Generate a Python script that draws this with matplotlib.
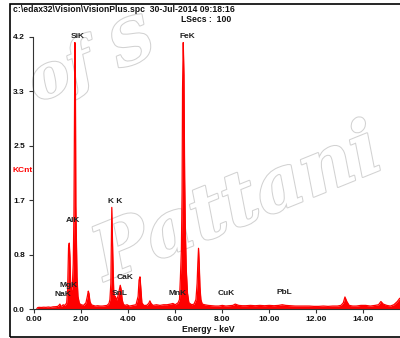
import matplotlib
matplotlib.use("Agg")
import matplotlib.pyplot as plt
import matplotlib.patheffects as pe
from matplotlib.patches import Rectangle

# EDS spectrum (keV, KCnt)
energy = [0.10, 0.14, 0.2, 0.3, 0.4, 0.5, 0.6, 0.7, 0.8, 0.9, 1.0, 1.05, 1.09,
          1.13, 1.18, 1.23, 1.28, 1.33, 1.38, 1.42, 1.46, 1.49, 1.52, 1.55,
          1.59, 1.62, 1.66, 1.69, 1.71, 1.73, 1.75, 1.77, 1.79, 1.82, 1.86,
          1.92, 2.0, 2.1, 2.2, 2.26, 2.30, 2.33, 2.37, 2.43, 2.5, 2.6, 2.7,
          2.8, 2.9, 3.0, 3.1, 3.18, 3.22, 3.26, 3.30, 3.34, 3.38, 3.42, 3.45,
          3.5, 3.56, 3.62, 3.66, 3.70, 3.74, 3.79, 3.86, 3.95, 4.05, 4.2,
          4.33, 4.42, 4.46, 4.50, 4.54, 4.58, 4.66, 4.78, 4.87, 4.92, 4.97,
          5.05, 5.2, 5.35, 5.5, 5.65, 5.8, 5.9, 6.0, 6.12, 6.18, 6.22, 6.26,
          6.29, 6.31, 6.34, 6.37, 6.40, 6.43, 6.47, 6.52, 6.58, 6.7, 6.8,
          6.88, 6.93, 6.96, 6.99, 7.02, 7.05, 7.09, 7.15, 7.25, 7.4, 7.55, 7.7,
          7.85, 8.0, 8.15, 8.3, 8.45, 8.55, 8.7, 8.85, 9.0, 9.2, 9.4, 9.6, 9.8,
          10.0, 10.2, 10.4, 10.55, 10.7, 10.9, 11.1, 11.3, 11.5, 11.7, 11.9,
          12.1, 12.3, 12.5, 12.7, 12.9, 13.05, 13.15, 13.22, 13.3, 13.4, 13.55,
          13.7, 13.9, 14.1, 14.3, 14.5, 14.65, 14.75, 14.85, 15.0, 15.15, 15.3,
          15.45, 15.55, 15.7, 15.85, 16.0]
kcnt = [0.0, 0.025, 0.03, 0.028, 0.032, 0.03, 0.035, 0.03, 0.038, 0.04, 0.045,
        0.06, 0.08, 0.05, 0.05, 0.07, 0.06, 0.07, 0.10, 0.3, 0.95, 1.02, 0.8,
        0.35, 0.3, 0.35, 0.7, 1.5, 2.97, 4.11, 3.69, 1.6, 1.17, 0.5, 0.2,
        0.09, 0.07, 0.06, 0.1, 0.2, 0.28, 0.24, 0.12, 0.07, 0.06, 0.05, 0.055,
        0.05, 0.05, 0.055, 0.06, 0.09, 0.15, 0.4, 1.57, 0.87, 0.3, 0.15, 0.2,
        0.14, 0.2, 0.3, 0.37, 0.3, 0.15, 0.08, 0.06, 0.07, 0.05, 0.06, 0.07,
        0.2, 0.45, 0.50, 0.3, 0.1, 0.06, 0.06, 0.09, 0.13, 0.09, 0.06, 0.07,
        0.06, 0.07, 0.07, 0.08, 0.09, 0.07, 0.1, 0.15, 0.5, 0.9, 1.8, 3.40,
        4.11, 3.61, 2.02, 1.2, 0.6, 0.25, 0.1, 0.07, 0.08, 0.15, 0.4, 0.7,
        0.94, 0.7, 0.35, 0.15, 0.08, 0.07, 0.06, 0.055, 0.05, 0.05, 0.06,
        0.05, 0.055, 0.06, 0.08, 0.06, 0.055, 0.055, 0.06, 0.055, 0.06, 0.055,
        0.06, 0.055, 0.06, 0.07, 0.06, 0.055, 0.05, 0.05, 0.05, 0.05, 0.045,
        0.045, 0.05, 0.045, 0.05, 0.05, 0.06, 0.1, 0.19, 0.12, 0.06, 0.05,
        0.05, 0.06, 0.06, 0.05, 0.06, 0.07, 0.12, 0.08, 0.06, 0.05, 0.07, 0.12,
        0.17, 0.16, 0.12, 0.08]

peak_names = ["NaK", "MgK", "AlK", "SiK", "K K", "SnL", "CaK", "MnK", "FeK",
              "CuK", "PbL"]
label_x = [1.23, 1.48, 1.66, 1.87, 3.45, 3.62, 3.87, 6.10, 6.53, 8.19, 10.64]
label_y = [0.23, 0.37, 1.37, 4.20, 1.66, 0.24, 0.49, 0.24, 4.20, 0.25, 0.26]

ytick_vals = [0.0, 0.84, 1.68, 2.52, 3.36, 4.2]
ytick_labels = ["0.0", "0.8", "1.7", "2.5", "3.3", "4.2"]
xtick_vals = [0, 2, 4, 6, 8, 10, 12, 14]

plt.rcParams["font.family"] = ["Liberation Sans", "DejaVu Sans"]
plt.rcParams["font.weight"] = "bold"
plt.rcParams["font.size"] = 6

W, H = 400, 338
fig = plt.figure(figsize=(W / 100, H / 100), dpi=100)
fig.patch.set_facecolor("white")

# watermark behind the plot
wm = [pe.Stroke(linewidth=1.5, foreground="#d2d2d2"), pe.Normal()]
fig.text(238 / W, 1 - 205 / H, "Pattani", fontsize=54, family="DejaVu Serif",
         style="italic", weight="bold", color="white", rotation=22,
         ha="center", va="center", zorder=-5, path_effects=wm)
fig.text(92 / W, 1 - 62 / H, "of S", fontsize=44, family="DejaVu Serif",
         style="italic", weight="bold", color="white", rotation=22,
         ha="center", va="center", zorder=-5, path_effects=wm)

ax = fig.add_axes([33.3 / W, 28.7 / H, 471 / W, 272.6 / H])
ax.patch.set_alpha(0)
ax.fill_between(energy, kcnt, 0, color="red", lw=0)
ax.plot(energy, kcnt, color="red", lw=0.9)

ax.set_xlim(-0.04, 20)
ax.set_ylim(0, 4.2)
for s in ["top", "right"]:
    ax.spines[s].set_visible(False)
for s in ["left", "bottom"]:
    ax.spines[s].set_color("#333333")
    ax.spines[s].set_linewidth(0.8)

ax.set_yticks(ytick_vals)
ax.set_yticklabels(ytick_labels)
ax.set_xticks(xtick_vals)
ax.set_xticklabels([f"{v:.2f}" for v in xtick_vals])
ax.tick_params(axis="both", direction="out", length=3, width=0.8,
               color="#333333", labelsize=6, labelcolor="#111111")
ax.tick_params(axis="y", pad=3)
ax.tick_params(axis="x", pad=1.5)

for name, x, y in zip(peak_names, label_x, label_y):
    ax.text(x, y, name, ha="center", va="center", fontsize=6,
            color="#222222", clip_on=False)

fig.text(13 / W, 1 - 10 / H, "c:\\edax32\\Vision\\VisionPlus.spc  30-Jul-2014 09:18:16",
         ha="left", va="center", fontsize=6.2, color="#111111")
fig.text(181 / W, 1 - 19 / H, "LSecs :  100", ha="left", va="center",
         fontsize=6.2, color="#111111")
fig.text(12.5 / W, 1 - 170.7 / H, "KCnt", ha="left", va="center",
         fontsize=6, color="red")
fig.text(208.3 / W, 1 - 330 / H, "Energy - keV", ha="center", va="center",
         fontsize=6.2, color="#111111")

fig.add_artist(Rectangle((10 / W, 1.5 / H), 2, 333 / H, transform=fig.transFigure,
                         fill=False, ec="black", lw=1.2))

fig.savefig("out.png", dpi=100)
